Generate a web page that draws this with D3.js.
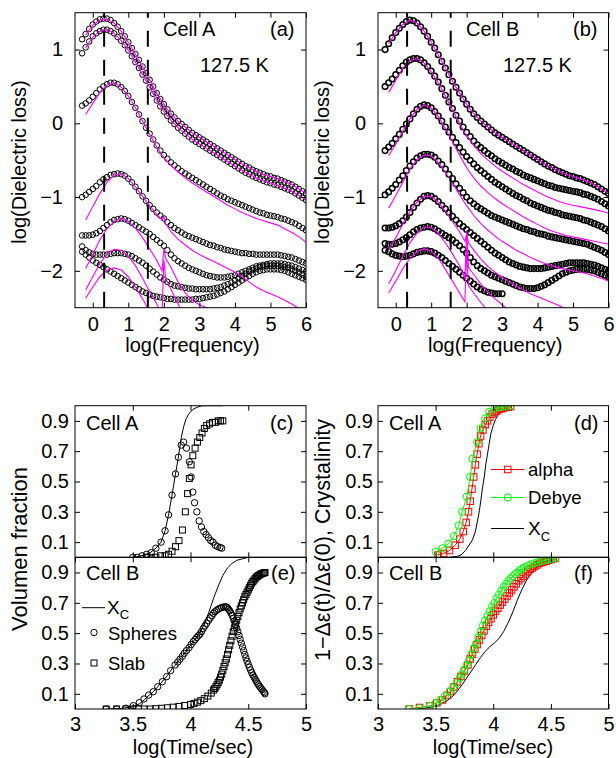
<!DOCTYPE html>
<html>
<head>
<meta charset="utf-8">
<script src="https://cdn.jsdelivr.net/npm/d3@7"></script>
<style>
  body { margin: 0; background: #fff; }
  svg text { font-family: "Liberation Sans", Arial, Helvetica, sans-serif; fill: #000; }
  .tick text { font-size: 20px; }
  .lbl { font-size: 20px; }
</style>
</head>
<body>
<div id="wrapper"></div>
<script>
// ---------- 1) Data ----------
// log(Frequency) grid of the measured spectra (-0.3 .. 6.0, step 0.1)
const freq = d3.range(-3, 61).map(i => i / 10);
// log(Frequency) points of the fits
const fitFreq = [-0.2,0,0.2,0.4,0.6,0.8,1.0,1.2,1.4,1.6,1.8, 1.95,2.0,2.05, 2.2,2.4,2.6,2.8,3.0,3.2,3.4,3.6,3.8,4.0,4.2,4.4,4.6,4.8,5.0,5.2,5.4,5.6,5.8,6.0];

// Cell A, 127.5 K : log(dielectric loss), seven spectra
const lossA1 = [1.14,1.21,1.28,1.34,1.38,1.41,1.42,1.42,1.40,1.36, 1.31,1.25,1.18,1.10,1.02,0.94,0.86,0.77,0.68,0.59, 0.50,0.41,0.33,0.26,0.19,0.13,0.08,0.03,-0.01,-0.05, -0.09,-0.13,-0.16,-0.19,-0.22,-0.25,-0.28,-0.31,-0.34,-0.37, -0.40,-0.43,-0.46,-0.49,-0.52,-0.55,-0.58,-0.60,-0.63,-0.65, -0.67,-0.69,-0.71,-0.72,-0.74,-0.75,-0.77,-0.79,-0.81,-0.83, -0.86,-0.89,-0.92,-0.95];
const lossA2 = [0.95,1.03,1.11,1.18,1.22,1.25,1.27,1.27,1.25,1.22, 1.17,1.12,1.06,0.99,0.91,0.83,0.75,0.66,0.58,0.49, 0.40,0.31,0.23,0.16,0.10,0.04,-0.01,-0.06,-0.10,-0.14, -0.18,-0.22,-0.25,-0.28,-0.31,-0.34,-0.37,-0.40,-0.43,-0.46, -0.49,-0.52,-0.55,-0.58,-0.61,-0.64,-0.67,-0.69,-0.72,-0.74, -0.76,-0.78,-0.80,-0.81,-0.83,-0.84,-0.86,-0.88,-0.90,-0.92, -0.95,-0.98,-1.01,-1.04];
const lossA3 = [0.24,0.27,0.31,0.36,0.41,0.46,0.50,0.53,0.55,0.55, 0.53,0.49,0.44,0.37,0.29,0.21,0.12,0.03,-0.06,-0.14, -0.22,-0.30,-0.37,-0.43,-0.48,-0.53,-0.57,-0.61,-0.65,-0.68, -0.71,-0.74,-0.77,-0.80,-0.83,-0.86,-0.89,-0.92,-0.95,-0.98, -1.00,-1.03,-1.05,-1.07,-1.09,-1.11,-1.13,-1.15,-1.17,-1.19, -1.21,-1.22,-1.24,-1.25,-1.26,-1.27,-1.29,-1.30,-1.32,-1.34, -1.36,-1.39,-1.42,-1.45];
const lossA4 = [-1.00,-0.97,-0.93,-0.89,-0.85,-0.80,-0.76,-0.73,-0.70,-0.69, -0.68,-0.69,-0.71,-0.75,-0.80,-0.86,-0.92,-0.99,-1.05,-1.11, -1.16,-1.21,-1.25,-1.29,-1.34,-1.38,-1.42,-1.45,-1.48,-1.51, -1.53,-1.55,-1.57,-1.59,-1.61,-1.63,-1.65,-1.66,-1.68,-1.69, -1.71,-1.72,-1.73,-1.74,-1.75,-1.76,-1.76,-1.77,-1.77,-1.78, -1.78,-1.78,-1.78,-1.78,-1.78,-1.78,-1.79,-1.80,-1.81,-1.82, -1.84,-1.86,-1.88,-1.90];
const lossA5 = [-1.52,-1.52,-1.52,-1.51,-1.49,-1.46,-1.42,-1.38,-1.34,-1.31, -1.30,-1.29,-1.30,-1.32,-1.35,-1.38,-1.41,-1.44,-1.47,-1.50, -1.54,-1.58,-1.62,-1.66,-1.72,-1.78,-1.83,-1.87,-1.90,-1.93, -1.96,-1.98,-2.00,-2.02,-2.04,-2.06,-2.07,-2.08,-2.09,-2.09, -2.09,-2.08,-2.07,-2.06,-2.04,-2.02,-2.00,-1.98,-1.96,-1.94, -1.93,-1.92,-1.91,-1.90,-1.90,-1.90,-1.90,-1.91,-1.92,-1.93, -1.95,-1.97,-1.99,-2.01];
const lossA6 = [-1.67,-1.72,-1.75,-1.77,-1.78,-1.78,-1.78,-1.78,-1.77,-1.76, -1.76,-1.76,-1.77,-1.78,-1.80,-1.83,-1.86,-1.89,-1.93,-1.97, -2.01,-2.05,-2.09,-2.12,-2.15,-2.18,-2.20,-2.21,-2.22,-2.23, -2.24,-2.24,-2.25,-2.25,-2.25,-2.25,-2.25,-2.24,-2.23,-2.22, -2.20,-2.18,-2.16,-2.13,-2.10,-2.07,-2.04,-2.01,-1.99,-1.97, -1.95,-1.94,-1.93,-1.93,-1.93,-1.93,-1.94,-1.95,-1.96,-1.98, -2.00,-2.02,-2.05,-2.08];
const lossA7 = [-1.74,-1.78,-1.82,-1.86,-1.89,-1.92,-1.95,-1.98,-2.01,-2.04, -2.07,-2.10,-2.13,-2.16,-2.19,-2.22,-2.25,-2.28,-2.30,-2.32, -2.34,-2.35,-2.36,-2.37,-2.38,-2.38,-2.39,-2.39,-2.39,-2.39, -2.39,-2.39,-2.38,-2.38,-2.37,-2.36,-2.35,-2.34,-2.32,-2.30, -2.28,-2.25,-2.22,-2.19,-2.16,-2.13,-2.10,-2.07,-2.04,-2.02, -2.00,-1.99,-1.98,-1.98,-1.98,-1.98,-1.99,-2.00,-2.02,-2.04, -2.06,-2.08,-2.10,-2.12];

// Cell A fits (magenta), on fitFreq
const fitA1 = [1.20,1.33,1.40,1.41,1.36,1.25,1.10,0.94,0.77,0.59,0.41, 0.30,0.26,0.22, 0.13,0.03,-0.05,-0.13,-0.19,-0.25,-0.31,-0.37,-0.43,-0.49,-0.55,-0.60,-0.65,-0.69,-0.72,-0.75,-0.79,-0.83,-0.89,-0.95];
const fitA2 = [1.02,1.17,1.25,1.27,1.22,1.12,0.99,0.83,0.66,0.49,0.31, 0.20,0.16,0.13, 0.04,-0.06,-0.14,-0.22,-0.28,-0.34,-0.40,-0.46,-0.52,-0.58,-0.64,-0.69,-0.74,-0.78,-0.81,-0.84,-0.88,-0.92,-0.98,-1.04];
const fitA3 = [0.12,0.27,0.42,0.52,0.55,0.49,0.37,0.21,0.03,-0.15,-0.32, -0.43,-0.46,-0.49, -0.57,-0.66,-0.74,-0.81,-0.87,-0.93,-0.99,-1.05,-1.11,-1.16,-1.21,-1.25,-1.29,-1.32,-1.35,-1.38,-1.43,-1.48,-1.54,-1.61];
const fitA4 = [-1.31,-1.13,-0.95,-0.80,-0.70,-0.68,-0.75,-0.86,-0.99,-1.12,-1.23, -1.31,-1.26,-1.36, -1.47,-1.57,-1.65,-1.72,-1.78,-1.83,-1.87,-1.92,-1.97,-2.02,-2.08,-2.15,-2.22,-2.27,-2.31,-2.35,-2.40,-2.45,-2.51,-2.57];
const fitA5 = [-1.97,-1.78,-1.58,-1.43,-1.33,-1.29,-1.33,-1.42,-1.55,-1.70,-1.86, -2.00,-1.70,-1.83, -1.95,-2.15,-2.30,-2.40,-2.46,-2.50,-2.56,null,null,null,null,null,null,null,null,null,null,null,null,null];
const fitA6 = [-2.26,-2.08,-1.90,-1.77,-1.71,-1.72,-1.80,-1.93,-2.10,-2.28,-2.45, -2.60,-1.85,-2.10, -2.25,-2.45,-2.65,null,null,null,null,null,null,null,null,null,null,null,null,null,null,null,null,null];
const fitA7 = [-2.37,-2.22,-2.08,-1.99,-1.96,-1.99,-2.08,-2.22,-2.38,-2.55,null, null,null,null, null,null,null,null,null,null,null,null,null,null,null,null,null,null,null,null,null,null,null,null];

// Cell B, 127.5 K : log(dielectric loss), seven spectra
const lossB1 = [1.00,1.08,1.16,1.23,1.29,1.34,1.38,1.40,1.39,1.36, 1.31,1.25,1.18,1.10,1.02,0.93,0.84,0.75,0.66,0.57, 0.49,0.41,0.33,0.26,0.19,0.13,0.08,0.03,-0.01,-0.05, -0.09,-0.13,-0.16,-0.19,-0.22,-0.25,-0.28,-0.31,-0.34,-0.37, -0.40,-0.43,-0.46,-0.49,-0.52,-0.55,-0.58,-0.60,-0.63,-0.65, -0.67,-0.69,-0.71,-0.72,-0.74,-0.75,-0.77,-0.79,-0.81,-0.83, -0.86,-0.89,-0.92,-0.95];
const lossB2 = [0.50,0.55,0.60,0.66,0.72,0.78,0.83,0.86,0.88,0.88, 0.86,0.82,0.77,0.71,0.64,0.56,0.47,0.38,0.29,0.20, 0.11,0.03,-0.05,-0.12,-0.18,-0.24,-0.29,-0.33,-0.37,-0.41, -0.44,-0.48,-0.51,-0.54,-0.57,-0.60,-0.62,-0.65,-0.67,-0.70, -0.72,-0.74,-0.76,-0.78,-0.80,-0.82,-0.84,-0.85,-0.87,-0.88, -0.89,-0.90,-0.91,-0.92,-0.93,-0.94,-0.96,-0.97,-0.99,-1.01, -1.03,-1.06,-1.09,-1.12];
const lossB3 = [-0.37,-0.32,-0.27,-0.21,-0.15,-0.08,-0.01,0.06,0.13,0.19, 0.23,0.25,0.24,0.21,0.16,0.10,0.03,-0.05,-0.12,-0.19, -0.26,-0.33,-0.39,-0.45,-0.50,-0.55,-0.60,-0.64,-0.68,-0.72, -0.76,-0.80,-0.83,-0.86,-0.89,-0.92,-0.95,-0.98,-1.00,-1.03, -1.05,-1.08,-1.10,-1.12,-1.14,-1.16,-1.18,-1.19,-1.21,-1.22, -1.24,-1.25,-1.26,-1.27,-1.28,-1.29,-1.31,-1.32,-1.34,-1.36, -1.38,-1.40,-1.43,-1.46];
const lossB4 = [-0.97,-0.93,-0.88,-0.83,-0.77,-0.71,-0.64,-0.58,-0.52,-0.47, -0.44,-0.42,-0.42,-0.43,-0.46,-0.51,-0.56,-0.62,-0.69,-0.75, -0.82,-0.88,-0.94,-1.00,-1.05,-1.09,-1.13,-1.16,-1.19,-1.22, -1.25,-1.27,-1.29,-1.31,-1.33,-1.35,-1.37,-1.39,-1.41,-1.43, -1.44,-1.46,-1.47,-1.49,-1.50,-1.51,-1.53,-1.54,-1.55,-1.56, -1.57,-1.58,-1.59,-1.60,-1.61,-1.62,-1.63,-1.64,-1.66,-1.68, -1.70,-1.72,-1.75,-1.78];
const lossB5 = [-1.42,-1.42,-1.41,-1.39,-1.36,-1.32,-1.27,-1.21,-1.14,-1.08, -1.03,-0.99,-0.98,-0.99,-1.02,-1.06,-1.11,-1.16,-1.21,-1.26, -1.31,-1.36,-1.40,-1.44,-1.48,-1.52,-1.56,-1.60,-1.64,-1.68, -1.72,-1.76,-1.79,-1.82,-1.85,-1.88,-1.90,-1.92,-1.94,-1.95, -1.96,-1.97,-1.97,-1.97,-1.97,-1.96,-1.95,-1.94,-1.93,-1.92, -1.91,-1.90,-1.89,-1.89,-1.89,-1.89,-1.89,-1.90,-1.91,-1.92, -1.94,-1.96,-1.98,-2.00];
const lossB6 = [-1.63,-1.64,-1.64,-1.63,-1.61,-1.58,-1.55,-1.51,-1.47,-1.44, -1.42,-1.41,-1.40,-1.41,-1.43,-1.46,-1.49,-1.52,-1.55,-1.58, -1.62,-1.66,-1.71,-1.76,-1.82,-1.88,-1.93,-1.97,-2.00,-2.03, -2.06,-2.08,-2.10,-2.12,-2.14,-2.16,-2.18,-2.20,-2.22,-2.23, -2.24,-2.24,-2.24,-2.23,-2.21,-2.19,-2.16,-2.13,-2.10,-2.07, -2.04,-2.02,-2.00,-1.99,-1.98,-1.98,-1.98,-1.98,-1.99,-2.00, -2.02,-2.04,-2.06,-2.08];
const lossB7 = [-1.72,-1.74,-1.77,-1.79,-1.80,-1.81,-1.80,-1.79,-1.77,-1.75, -1.74,-1.73,-1.73,-1.74,-1.76,-1.79,-1.82,-1.86,-1.90,-1.94, -1.98,-2.02,-2.06,-2.10,-2.14,-2.18,-2.22,-2.25,-2.27,-2.29, -2.30,-2.31,-2.31,-2.31,null,null,null,null,null,null, null,null,null,null,null,null,null,null,null,null, null,null,null,null,null,null,null,null,null,null, null,null,null,null];

// Cell B fits (magenta), on fitFreq
const fitB1 = [1.08,1.23,1.34,1.40,1.36,1.25,1.10,0.93,0.75,0.57,0.41, 0.30,0.26,0.22, 0.13,0.03,-0.05,-0.13,-0.19,-0.25,-0.31,-0.37,-0.43,-0.49,-0.55,-0.60,-0.65,-0.69,-0.72,-0.75,-0.79,-0.83,-0.89,-0.95];
const fitB2 = [0.42,0.58,0.75,0.85,0.88,0.82,0.70,0.55,0.37,0.18,0.00, -0.13,-0.17,-0.20, -0.30,-0.41,-0.50,-0.58,-0.65,-0.71,-0.77,-0.83,-0.88,-0.93,-0.98,-1.02,-1.06,-1.09,-1.11,-1.13,-1.15,-1.17,-1.19,-1.22];
const fitB3 = [-0.44,-0.28,-0.10,0.06,0.19,0.25,0.21,0.09,-0.07,-0.25,-0.43, -0.56,-0.60,-0.64, -0.74,-0.85,-0.94,-1.02,-1.09,-1.15,-1.21,-1.27,-1.32,-1.37,-1.42,-1.46,-1.49,-1.52,-1.54,-1.56,-1.58,-1.60,-1.62,-1.64];
const fitB4 = [-1.15,-0.98,-0.80,-0.62,-0.49,-0.43,-0.44,-0.53,-0.66,-0.81,-0.97, -1.08,-1.12,-1.15, -1.25,-1.36,-1.45,-1.53,-1.60,-1.66,-1.72,-1.77,-1.82,-1.86,-1.90,-1.93,-1.96,-1.98,-2.00,-2.02,-2.04,-2.07,-2.10,-2.14];
const fitB5 = [-1.72,-1.55,-1.37,-1.20,-1.07,-0.99,-0.99,-1.07,-1.19,-1.33,-1.47, -1.60,-1.50,-1.62, -1.72,-1.84,-1.94,-2.02,-2.09,-2.15,-2.21,-2.26,-2.31,-2.35,-2.39,-2.43,-2.47,-2.52,null,null,null,null,null,null];
const fitB6 = [-2.18,-2.00,-1.80,-1.62,-1.49,-1.41,-1.41,-1.49,-1.62,-1.77,-1.93, -2.10,-1.45,-1.95, -2.05,-2.18,-2.29,-2.38,-2.46,-2.54,null,null,null,null,null,null,null,null,null,null,null,null,null,null];
const fitB7 = [-2.30,-2.14,-1.97,-1.83,-1.74,-1.70,-1.73,-1.83,-1.98,-2.14,-2.30, -2.42,-1.72,-2.20, -2.30,-2.43,-2.55,null,null,null,null,null,null,null,null,null,null,null,null,null,null,null,null,null];

// dashed markers of log(Frequency)
const dashFreq = [0.32, 1.55];

// (c) Cell A volume fractions vs log(time/sec)
const sphC_t = [3.50,3.54,3.58,3.62,3.66,3.70,3.745,3.78,3.81,3.84,3.87,3.895,3.92,3.94,3.965,3.99,4.005,4.02,4.035,4.055,4.075,4.095,4.115,4.135,4.155,4.175,4.195,4.215,4.235,4.255,4.27];
const sphC_v = [0.00,0.00,0.01,0.02,0.03,0.06,0.10,0.175,0.28,0.41,0.55,0.66,0.74,0.76,0.72,0.63,0.53,0.43,0.36,0.30,0.24,0.20,0.17,0.15,0.13,0.11,0.10,0.08,0.07,0.065,0.06];
const slabC_t = [3.62,3.66,3.70,3.74,3.78,3.81,3.84,3.87,3.90,3.93,3.955,3.975,3.99,4.005,4.02,4.04,4.06,4.08,4.10,4.12,4.14,4.165,4.19,4.215,4.24,4.26,4.28];
const slabC_v = [0.00,0.00,0.00,0.01,0.01,0.02,0.04,0.07,0.11,0.18,0.30,0.42,0.52,0.61,0.67,0.72,0.76,0.79,0.82,0.85,0.87,0.88,0.89,0.89,0.90,0.90,0.90];
const xcC_t = [3.50,3.55,3.60,3.65,3.70,3.745,3.78,3.81,3.84,3.87,3.895,3.92,3.94,3.96,3.98,4.00,4.03,4.06,4.10,4.15,4.20,4.28];
const xcC_v = [0.00,0.005,0.015,0.03,0.06,0.10,0.175,0.28,0.41,0.55,0.66,0.79,0.86,0.91,0.94,0.96,0.98,0.99,1.0,1.0,1.0,1.0];

// (e) Cell B volume fractions
const sphE_t = [3.27,3.36,3.44,3.505,3.557,3.597,3.638,3.678,3.716,3.756,3.794,3.828,3.866,3.89,3.909,3.93,3.946,3.965,3.987,4.005,4.024,4.04,4.055,4.07,4.082,4.095,4.11,4.125,4.14,4.155,4.17,4.185,4.198,4.21,4.225,4.24,4.255,4.27,4.285,
  4.30,4.31,4.32,4.33,4.34,4.35,4.36,4.37,4.38,4.39,4.40,4.41,4.42,4.43,4.44,4.45,4.46,4.47,4.48,4.49,4.50,4.51,4.52,4.53,4.54,4.55,4.56,4.57,4.58,4.59,4.60,4.61,4.62,4.63,4.64,4.645];
const sphE_v = [0.0,0.0,0.005,0.022,0.042,0.066,0.092,0.114,0.147,0.18,0.213,0.253,0.29,0.31,0.328,0.348,0.367,0.385,0.404,0.424,0.444,0.458,0.472,0.485,0.494,0.51,0.53,0.548,0.565,0.583,0.60,0.616,0.63,0.641,0.65,0.658,0.664,0.669,0.672,
  0.674,0.672,0.667,0.658,0.647,0.633,0.617,0.598,0.578,0.556,0.533,0.509,0.484,0.459,0.434,0.409,0.384,0.36,0.337,0.315,0.294,0.275,0.257,0.24,0.224,0.21,0.196,0.183,0.17,0.158,0.147,0.137,0.127,0.117,0.108,0.10];
const slabE_t = [3.27,3.36,3.44,3.50,3.55,3.60,3.65,3.70,3.75,3.80,3.85,3.90,3.95,4.00,4.03,4.06,4.09,4.12,4.15,4.18,
  4.20,4.21,4.22,4.23,4.24,4.25,4.26,4.27,4.28,4.29,4.30,4.31,4.32,4.33,4.34,4.35,4.36,4.37,4.38,4.39,4.40,4.41,4.42,4.43,4.44,4.45,4.46,4.47,4.48,4.49,4.50,4.51,4.52,4.53,4.54,4.55,4.56,4.57,4.58,4.59,4.60,4.61,4.62,4.63,4.64,4.645];
const slabE_v = [0.0,0.0,0.0,0.0,0.0,0.0,0.0,0.002,0.005,0.008,0.012,0.017,0.023,0.03,0.037,0.045,0.055,0.068,0.085,0.105,
  0.125,0.135,0.147,0.16,0.175,0.19,0.21,0.23,0.255,0.28,0.305,0.33,0.36,0.39,0.42,0.45,0.48,0.51,0.535,0.56,0.585,0.61,0.635,0.66,0.68,0.70,0.72,0.74,0.755,0.77,0.785,0.80,0.815,0.83,0.84,0.85,0.86,0.87,0.875,0.88,0.885,0.89,0.893,0.896,0.899,0.90];
const xcE_t = [3.27,3.40,3.50,3.56,3.60,3.64,3.68,3.72,3.76,3.80,3.84,3.88,3.92,3.96,4.00,4.04,4.08,4.12,4.16,4.20,4.24,4.28,4.32,4.36,4.40,4.45,4.50,4.65];
const xcE_v = [0.0,0.003,0.015,0.035,0.06,0.09,0.115,0.15,0.185,0.22,0.265,0.30,0.34,0.38,0.42,0.46,0.50,0.56,0.64,0.73,0.81,0.88,0.93,0.96,0.98,0.99,1.0,1.0];

// (d) Cell A: 1 - d_eps(t)/d_eps(0) and crystallinity
const alphaD_t = [3.52,3.57,3.62,3.67,3.71,3.74,3.765,3.785,3.80,3.815,3.83,3.845,3.86,3.875,3.89,3.91,3.93,3.95,3.97,3.99,4.01,4.03,4.05,4.07,4.09,4.11,4.13,4.15];
const alphaD_v = [0.015,0.025,0.045,0.08,0.12,0.17,0.23,0.30,0.37,0.45,0.53,0.61,0.68,0.75,0.80,0.84,0.875,0.90,0.925,0.945,0.955,0.965,0.975,0.98,0.985,0.99,0.99,0.995];
const debyeD_t = [3.50,3.56,3.61,3.66,3.70,3.73,3.77,3.80,3.82,3.86,3.89,3.93,3.965,4.01,4.05,4.08,4.11,4.15];
const debyeD_v = [0.037,0.06,0.09,0.14,0.21,0.30,0.40,0.53,0.65,0.76,0.85,0.917,0.96,0.98,0.99,0.995,0.995,1.0];
const xcD_t = [3.62,3.68,3.72,3.76,3.79,3.82,3.845,3.865,3.88,3.893,3.905,3.922,3.935,3.951,3.965,3.98,4.00,4.02,4.05,4.08,4.11,4.15];
const xcD_v = [0.0,0.005,0.015,0.045,0.08,0.115,0.17,0.246,0.31,0.378,0.45,0.53,0.61,0.686,0.75,0.818,0.87,0.91,0.95,0.965,0.976,0.987];

// (f) Cell B
const alphaF_t = [3.27,3.36,3.45,3.51,3.56,3.60,3.63,3.66,3.69,3.72,3.75,3.78,3.80,3.82,3.84,3.86,3.88,3.90,3.92,3.94,3.96,3.98,4.00,4.02,4.04,4.06,4.08,4.10,4.12,4.14,4.16,4.18,4.20,4.22,4.24,4.26,4.28,4.30,4.32,4.34,4.36,4.38,4.40,4.42,4.44,4.46,4.48,4.50,4.52,4.54];
const alphaF_v = [0.0,0.01,0.02,0.04,0.06,0.09,0.115,0.145,0.18,0.215,0.25,0.29,0.33,0.36,0.395,0.425,0.455,0.485,0.515,0.545,0.57,0.595,0.62,0.645,0.665,0.685,0.705,0.725,0.745,0.765,0.785,0.805,0.825,0.845,0.86,0.875,0.89,0.905,0.92,0.93,0.94,0.95,0.96,0.965,0.97,0.975,0.98,0.985,0.99,0.995];
const debyeF_t = [3.27,3.36,3.45,3.50,3.54,3.58,3.62,3.65,3.68,3.71,3.73,3.75,3.77,3.79,3.81,3.83,3.85,3.87,3.89,3.91,3.93,3.95,3.97,3.99,4.01,4.03,4.05,4.07,4.09,4.11,4.13,4.15,4.17,4.19,4.21,4.23,4.25,4.27,4.30,4.33,4.36,4.39,4.42,4.45,4.48,4.51,4.54];
const debyeF_v = [0.0,0.005,0.02,0.04,0.06,0.085,0.115,0.14,0.17,0.205,0.23,0.26,0.29,0.32,0.36,0.40,0.43,0.47,0.51,0.55,0.585,0.615,0.645,0.675,0.70,0.73,0.755,0.78,0.805,0.825,0.845,0.86,0.875,0.89,0.90,0.915,0.925,0.935,0.945,0.955,0.962,0.968,0.975,0.98,0.985,0.99,0.995];
const xcF_t = [3.31,3.40,3.48,3.54,3.60,3.65,3.69,3.73,3.77,3.81,3.85,3.89,3.93,3.97,4.01,4.05,4.09,4.13,4.17,4.21,4.25,4.29,4.33,4.37,4.41,4.45,4.50,4.55];
const xcF_v = [0.0,0.005,0.015,0.03,0.055,0.085,0.12,0.16,0.205,0.25,0.295,0.34,0.38,0.41,0.435,0.465,0.51,0.57,0.64,0.72,0.79,0.85,0.895,0.93,0.955,0.97,0.985,0.995];

// tick values
const freqTicks = [0, 1, 2, 3, 4, 5, 6];
const lossTicks = [-2, -1, 0, 1];
const timeTicks = [3, 3.5, 4, 4.5, 5];
const fracTicks = [0.1, 0.3, 0.5, 0.7, 0.9];

// ---------- 2) Dimensions ----------
const width = 616, height = 758;
const boxes = {
  a: {left: 75, right: 306, top: 12.7, bottom: 307.7},
  b: {left: 378, right: 608.5, top: 12.7, bottom: 307.7},
  c: {left: 75, right: 306, top: 405.7, bottom: 557.3},
  e: {left: 75, right: 306, top: 557.3, bottom: 709},
  d: {left: 378, right: 608.5, top: 405.7, bottom: 557.3},
  f: {left: 378, right: 608.5, top: 557.3, bottom: 709}
};

// ---------- 3) Canvas ----------
const svg = d3.select("#wrapper").append("svg")
  .attr("width", width).attr("height", height);

// ---------- 4) Helpers ----------
function makePanel(name, xDomain, yDomain) {
  const box = boxes[name];
  const x = d3.scaleLinear().domain(xDomain).range([box.left, box.right]);
  const y = d3.scaleLinear().domain(yDomain).range([box.bottom, box.top]);
  svg.append("clipPath").attr("id", "clip-" + name)
    .append("rect")
    .attr("x", box.left).attr("y", box.top)
    .attr("width", box.right - box.left).attr("height", box.bottom - box.top);
  const plot = svg.append("g").attr("clip-path", `url(#clip-${name})`);
  return {name, box, x, y, plot};
}

function drawAxes(p, xTicks, yTicks, o) {
  const {box, x, y} = p;
  const fmtX = o.xLabels ? d3.format("") : () => "";
  svg.append("g").attr("transform", `translate(0,${box.bottom})`)
    .call(d3.axisBottom(x).tickValues(xTicks).tickSize(-5).tickPadding(o.xPad || 10).tickFormat(fmtX));
  svg.append("g").attr("transform", `translate(0,${box.top})`)
    .call(d3.axisTop(x).tickValues(xTicks).tickSize(-5).tickFormat(() => ""));
  svg.append("g").attr("transform", `translate(${box.left},0)`)
    .call(d3.axisLeft(y).tickValues(yTicks).tickSize(-5).tickPadding(o.yPad).tickFormat(o.yFormat));
  svg.append("g").attr("transform", `translate(${box.right},0)`)
    .call(d3.axisRight(y).tickValues(yTicks).tickSize(-5).tickFormat(() => ""));
  svg.selectAll(".domain").remove();
  svg.append("rect")
    .attr("x", box.left).attr("y", box.top)
    .attr("width", box.right - box.left).attr("height", box.bottom - box.top)
    .attr("fill", "none").attr("stroke", "#000").attr("stroke-width", 1);
}

function pairs(xs, ys) {
  return xs.map((v, i) => [v, ys[i]]).filter(d => d[1] !== null);
}

function drawCircles(p, pts, r, color, w) {
  p.plot.append("g").selectAll("circle").data(pts).join("circle")
    .attr("cx", d => p.x(d[0])).attr("cy", d => p.y(d[1])).attr("r", r)
    .attr("fill", "none").attr("stroke", color).attr("stroke-width", w || 1);
}

function drawSquares(p, pts, s, color) {
  p.plot.append("g").selectAll("rect").data(pts).join("rect")
    .attr("x", d => p.x(d[0]) - s / 2).attr("y", d => p.y(d[1]) - s / 2)
    .attr("width", s).attr("height", s)
    .attr("fill", "none").attr("stroke", color).attr("stroke-width", 1);
}

function drawLine(p, pts, color, w) {
  const line = d3.line().x(d => p.x(d[0])).y(d => p.y(d[1]));
  p.plot.append("path").attr("d", line(pts))
    .attr("fill", "none").attr("stroke", color).attr("stroke-width", w);
}

function addText(x, y, str, size) {
  return svg.append("text").attr("x", x).attr("y", y)
    .attr("class", "lbl").style("font-size", (size || 20) + "px").text(str);
}

// ---------- 5) Dielectric loss panels (a), (b) ----------
function lossPanel(name, dataSeries, fitSeries, cellText, tag, boxX, markW) {
  const p = makePanel(name, [-0.5, 6], [-2.5, 1.5]);
  dataSeries.forEach(s => drawCircles(p, pairs(freq, s), 2.8, "#000", markW));
  fitSeries.forEach(s => drawLine(p, pairs(fitFreq, s), "#ff00ff", 1.1));
  dashFreq.forEach(f => {
    p.plot.append("line")
      .attr("x1", p.x(f)).attr("x2", p.x(f))
      .attr("y1", p.box.bottom).attr("y2", p.box.top)
      .attr("stroke", "#000").attr("stroke-width", 2)
      .attr("stroke-dasharray", "16,13");
  });
  drawAxes(p, freqTicks, lossTicks, {xLabels: true, xPad: 9, yPad: 12, yFormat: d3.format("")});
  addText(boxX + 88, 36, cellText);
  addText(boxX + 195, 36, tag);
  addText(boxX + 125, 72, "127.5 K");
  svg.append("text").attr("class", "lbl")
    .attr("x", (p.box.left + p.box.right) / 2 + 2).attr("y", 352)
    .attr("text-anchor", "middle").text("log(Frequency)");
  svg.append("text").attr("class", "lbl")
    .attr("transform", `translate(${p.box.left - 49},162) rotate(-90)`)
    .attr("text-anchor", "middle").text("log(Dielectric loss)");
}

lossPanel("a", [lossA1, lossA2, lossA3, lossA4, lossA5, lossA6, lossA7],
  [fitA1, fitA2, fitA3, fitA4, fitA5, fitA6, fitA7], "Cell A", "(a)", 75, 1);
lossPanel("b", [lossB1, lossB2, lossB3, lossB4, lossB5, lossB6, lossB7],
  [fitB1, fitB2, fitB3, fitB4, fitB5, fitB6, fitB7], "Cell B", "(b)", 378, 1.5);

// ---------- 6) Volume fraction panels (c), (e) ----------
const fracFmt = d3.format(".1f");
const pc = makePanel("c", [3, 5], [0, 1]);
drawLine(pc, pairs(xcC_t, xcC_v), "#000", 1);
drawCircles(pc, pairs(sphC_t, sphC_v), 3.2, "#000");
drawSquares(pc, pairs(slabC_t, slabC_v), 6, "#000");
drawAxes(pc, [3.5, 4, 4.5], fracTicks, {xLabels: false, yPad: 6, yFormat: fracFmt});

const pe = makePanel("e", [3, 5], [0, 1]);
drawLine(pe, pairs(xcE_t, xcE_v), "#000", 1);
drawCircles(pe, pairs(sphE_t, sphE_v), 3.2, "#000");
drawSquares(pe, pairs(slabE_t, slabE_v), 6, "#000");
drawAxes(pe, timeTicks, fracTicks, {xLabels: true, xPad: 8, yPad: 6, yFormat: fracFmt});

addText(86, 429.5, "Cell A");
addText(270, 429.5, "(c)");
addText(86, 580, "Cell B");
addText(271, 580, "(e)");

// legend (e)
svg.append("line").attr("x1", 82).attr("x2", 105).attr("y1", 607.7).attr("y2", 607.7)
  .attr("stroke", "#000").attr("stroke-width", 1);
const xcLab1 = addText(107, 614, "X", 19);
xcLab1.append("tspan").attr("dy", 5).style("font-size", "13px").text("C");
svg.append("circle").attr("cx", 94).attr("cy", 632.5).attr("r", 3.2)
  .attr("fill", "none").attr("stroke", "#000");
addText(108, 639.5, "Spheres", 18.5);
svg.append("rect").attr("x", 91).attr("y", 660).attr("width", 6).attr("height", 6)
  .attr("fill", "none").attr("stroke", "#000");
addText(108, 670, "Slab", 18.5);

svg.append("text").attr("class", "lbl").style("font-size", "22px")
  .attr("transform", "translate(27,549) rotate(-90)")
  .attr("text-anchor", "middle").text("Volumen fraction");
svg.append("text").attr("class", "lbl").style("font-size", "20px")
  .attr("x", 193).attr("y", 753.5).attr("text-anchor", "middle").text("log(Time/sec)");

// ---------- 7) Relaxation-strength panels (d), (f) ----------
const pd = makePanel("d", [3, 5], [0, 1]);
drawLine(pd, pairs(xcD_t, xcD_v), "#000", 1);
drawLine(pd, pairs(alphaD_t, alphaD_v), "#ff0000", 1);
drawSquares(pd, pairs(alphaD_t, alphaD_v), 6.5, "#ff0000");
drawLine(pd, pairs(debyeD_t, debyeD_v), "#00ff00", 1);
drawCircles(pd, pairs(debyeD_t, debyeD_v), 3.6, "#00ff00");
drawAxes(pd, [3.5, 4, 4.5], fracTicks, {xLabels: false, yPad: 5, yFormat: fracFmt});

const pf = makePanel("f", [3, 5], [0, 1]);
drawLine(pf, pairs(xcF_t, xcF_v), "#000", 1);
drawLine(pf, pairs(alphaF_t, alphaF_v), "#ff0000", 1);
drawSquares(pf, pairs(alphaF_t, alphaF_v), 6.5, "#ff0000");
drawLine(pf, pairs(debyeF_t, debyeF_v), "#00ff00", 1);
drawCircles(pf, pairs(debyeF_t, debyeF_v), 3.6, "#00ff00");
drawAxes(pf, timeTicks, fracTicks, {xLabels: true, xPad: 8, yPad: 5, yFormat: fracFmt});

addText(389, 429.5, "Cell A");
addText(574, 429.5, "(d)");
addText(389, 580, "Cell B");
addText(574, 580, "(f)");

// legend (d)
const legD = [
  {y: 469.5, color: "#ff0000", mark: "square", label: "alpha"},
  {y: 497.5, color: "#00ff00", mark: "circle", label: "Debye"},
  {y: 528.5, color: "#000", mark: null, label: "X"}
];
legD.forEach(l => {
  svg.append("line").attr("x1", 491).attr("x2", 524).attr("y1", l.y).attr("y2", l.y)
    .attr("stroke", l.color).attr("stroke-width", 1);
  if (l.mark === "square") {
    svg.append("rect").attr("x", 507.7 - 3.25).attr("y", l.y - 3.25).attr("width", 6.5).attr("height", 6.5)
      .attr("fill", "none").attr("stroke", l.color);
  } else if (l.mark === "circle") {
    svg.append("circle").attr("cx", 507.7).attr("cy", l.y).attr("r", 3.6)
      .attr("fill", "none").attr("stroke", l.color);
  }
  const t = addText(528, l.y + 6.5, l.label, l.label === "X" ? 19 : 18.5);
  if (l.label === "X") t.append("tspan").attr("dy", 6).style("font-size", "13px").text("C");
});

svg.append("text").attr("class", "lbl").style("font-size", "21.5px")
  .attr("transform", "translate(330,540) rotate(-90)")
  .attr("text-anchor", "middle").text("1\u2212\u0394\u03b5(t)/\u0394\u03b5(0), Crystalinity");
svg.append("text").attr("class", "lbl").style("font-size", "20px")
  .attr("x", 493).attr("y", 753.5).attr("text-anchor", "middle").text("log(Time/sec)");
</script>
</body>
</html>
